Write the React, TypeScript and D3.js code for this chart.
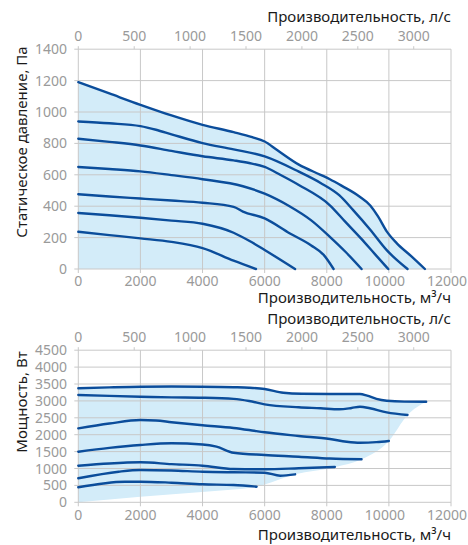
import React from "react";
import * as d3 from "d3";

// ---- data ----
const flowTicks = [0, 2000, 4000, 6000, 8000, 10000, 12000];
const lsTicks = [0, 500, 1000, 1500, 2000, 2500, 3000];
const pressureTicks = [0, 200, 400, 600, 800, 1000, 1200, 1400];
const powerTicks = [0, 500, 1000, 1500, 2000, 2500, 3000, 3500, 4000, 4500];

const pressure1 = [[0,1190],[1000,1118],[2000,1046],[3000,978],[4000,918],[5000,872],[5600,840],[6000,812],[6400,758],[7100,665],[7800,600],[8100,572],[8500,528],[9050,462],[9400,405],[9650,335],[9930,240],[10250,165],[10700,85],[11160,0]];
const pressure2 = [[0,940],[1000,928],[2000,910],[2500,887],[3000,858],[4000,802],[5000,762],[6000,717],[7100,620],[7800,548],[8400,470],[8850,375],[9400,250],[9930,120],[10600,0]];
const pressure3 = [[0,830],[1000,810],[2000,787],[3000,752],[4000,718],[5000,692],[5500,675],[6000,650],[6500,600],[7100,535],[8100,406],[8600,300],[9100,195],[9550,95],[9980,0]];
const pressure4 = [[0,650],[1000,637],[2000,622],[3000,598],[4000,572],[5300,527],[6000,480],[6800,400],[7500,310],[8100,205],[8600,110],[9120,0]];
const pressure5 = [[0,476],[1000,462],[2000,449],[3000,436],[4000,422],[5000,396],[5300,366],[6000,322],[6800,228],[7500,150],[7900,90],[8220,0]];
const pressure6 = [[0,357],[1000,342],[2000,326],[3000,308],[4000,288],[5000,231],[5500,180],[6000,121],[6980,0]];
const pressure7 = [[0,237],[1000,216],[2000,195],[3000,173],[4000,133],[5000,53],[5720,0]];
const pressureCurves = [pressure1, pressure2, pressure3, pressure4, pressure5, pressure6, pressure7];

const power1 = [[0,3373],[1000,3400],[2000,3420],[3000,3425],[4000,3420],[5000,3405],[5500,3390],[6000,3352],[6600,3243],[7200,3210],[8100,3204],[9070,3204],[9300,3154],[9600,3060],[9930,3006],[10500,2980],[11200,2976]];
const power2 = [[0,3175],[1000,3148],[2000,3124],[3000,3105],[4000,3095],[5000,3060],[5500,2997],[6000,2899],[7100,2811],[7800,2781],[8400,2751],[8800,2790],[9070,2828],[9390,2781],[9930,2662],[10600,2583]];
const power3 = [[0,2189],[1000,2330],[2000,2435],[2500,2420],[3000,2370],[4000,2280],[5000,2200],[5500,2139],[6000,2071],[7100,1962],[8100,1873],[8640,1793],[9070,1763],[9600,1780],[10000,1814]];
const power4 = [[0,1497],[1000,1610],[2000,1695],[3000,1745],[4000,1710],[4450,1645],[5000,1467],[6000,1399],[7100,1349],[8100,1295],[9120,1272]];
const power5 = [[0,1083],[1000,1150],[2000,1183],[3000,1130],[4000,1083],[5000,985],[6000,976],[7100,1006],[8260,1045]];
const power6 = [[0,710],[1300,905],[2000,955],[3000,940],[4000,905],[5000,888],[6000,876],[6500,787],[6980,828]];
const power7 = [[0,444],[1500,610],[2000,610],[3000,580],[4000,533],[5000,512],[5740,462]];
const powerCurves = [power1, power2, power3, power4, power5, power6, power7];
const powerLowerBound = [[0,0],[2000,165],[4080,314],[5740,462],[6980,828],[8260,1040],[9120,1270],[10000,1810],[10600,2583],[11200,2976]];

const LS_TO_M3H = 3.6;

const FONT = "'Noto Sans', sans-serif";
const GRID = "#c8c8c8";
const TICK_COLOR = "#9a9a9a";
const TITLE_COLOR = "#1a1a1a";
const LINE_COLOR = "#0b4d9b";
const FILL = "#d3ecf9";

const xLeft = 78.3, xRight = 451;

function Panel({ yDomainMax, yTicks, yTop, yBottom, curves, fillPath, yTitle, yTitleY, topTitleY, topTickY, bottomTickY, bottomTitleY }) {
  const x = d3.scaleLinear().domain([0, 12000]).range([xLeft, xRight]);
  const y = d3.scaleLinear().domain([0, yDomainMax]).range([yBottom, yTop]);
  const line = d3.line().x((d) => x(d[0])).y((d) => y(d[1])).curve(d3.curveMonotoneX);
  const fill = fillPath(x, y, line);
  const lastTick = flowTicks[flowTicks.length - 1];
  return (
    <g>
      <path d={fill} fill={FILL} stroke="none" />
      {yTicks.map((t) => (
        <line key={"h" + t} x1={xLeft - 4} x2={xRight} y1={y(t)} y2={y(t)} stroke={GRID} strokeWidth={1} />
      ))}
      {flowTicks.map((t) => (
        <line key={"v" + t} x1={x(t)} x2={x(t)} y1={yTop} y2={yBottom + 4} stroke={GRID} strokeWidth={1} />
      ))}
      {lsTicks.map((t) => (
        <line key={"l" + t} x1={x(t * LS_TO_M3H)} x2={x(t * LS_TO_M3H)} y1={yTop - 3} y2={yTop} stroke={GRID} strokeWidth={1} />
      ))}
      {curves.map((c, i) => (
        <path key={"c" + i} d={line(c)} fill="none" stroke={LINE_COLOR} strokeWidth={2.4} strokeLinecap="round" strokeLinejoin="round" />
      ))}
      {yTicks.map((t) => (
        <text key={"yl" + t} x={67} y={y(t) + 5} textAnchor="end" fontSize={14} fill={TICK_COLOR} fontFamily={FONT}>{t}</text>
      ))}
      {flowTicks.map((t) => (
        <text key={"xl" + t} x={t === lastTick ? 467 : x(t) - (t === 10000 ? 4 : 0)} y={bottomTickY} textAnchor={t === lastTick ? "end" : "middle"} fontSize={14} fill={TICK_COLOR} fontFamily={FONT}>{t}</text>
      ))}
      {lsTicks.map((t) => (
        <text key={"ls" + t} x={x(t * LS_TO_M3H)} y={topTickY} textAnchor="middle" fontSize={14} fill={TICK_COLOR} fontFamily={FONT}>{t}</text>
      ))}
      <text x={xRight} y={topTitleY} textAnchor="end" fontSize={15} fill={TITLE_COLOR} fontFamily={FONT}>Производительность, л/с</text>
      <text x={xRight} y={bottomTitleY} textAnchor="end" fontSize={15} fill={TITLE_COLOR} fontFamily={FONT}>Производительность, м³/ч</text>
      <text transform={`translate(27,${yTitleY}) rotate(-90)`} textAnchor="middle" fontSize={15} fill={TITLE_COLOR} fontFamily={FONT}>{yTitle}</text>
    </g>
  );
}

export default function App() {
  const topFill = (x, y) => {
    const area = d3.area().x((d) => x(d[0])).y0(y(0)).y1((d) => y(d[1])).curve(d3.curveMonotoneX);
    return area(pressure1);
  };
  const bottomFill = (x, y, line) => {
    const upper = line(power1);
    const lower = line(powerLowerBound.slice().reverse());
    return upper + "L" + lower.slice(1) + "Z";
  };
  return (
    <svg width={468} height={545} style={{ position: "absolute", left: 0, top: 0 }}>
      <rect width={468} height={545} fill="#ffffff" />
      <Panel
        yDomainMax={1400}
        yTicks={pressureTicks}
        yTop={49.2}
        yBottom={269}
        curves={pressureCurves}
        fillPath={topFill}
        yTitle="Статическое давление, Па"
        yTitleY={142}
        topTitleY={22}
        topTickY={41}
        bottomTickY={286}
        bottomTitleY={303}
      />
      <Panel
        yDomainMax={4500}
        yTicks={powerTicks}
        yTop={350.2}
        yBottom={502.3}
        curves={powerCurves}
        fillPath={bottomFill}
        yTitle="Мощность, Вт"
        yTitleY={402}
        topTitleY={324}
        topTickY={342}
        bottomTickY={520}
        bottomTitleY={540}
      />
    </svg>
  );
}
